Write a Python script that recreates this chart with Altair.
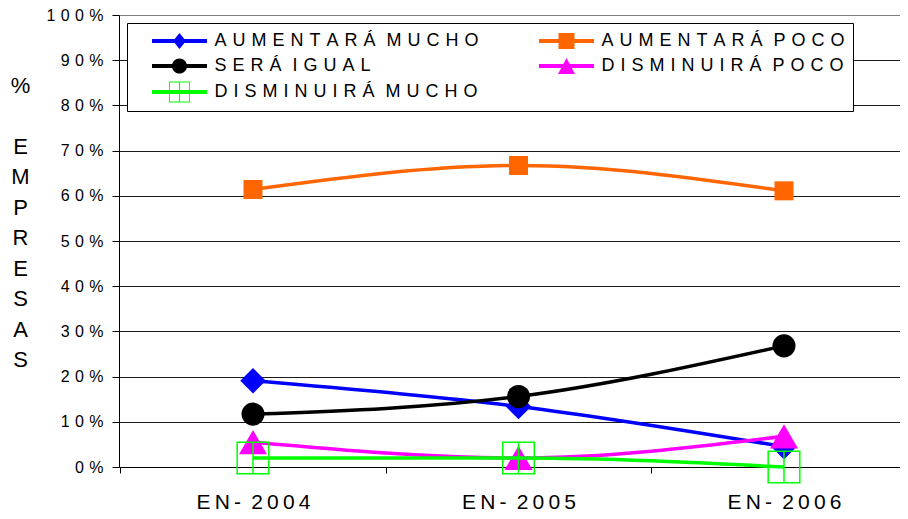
import altair as alt
import pandas as pd

# ---------------- data ----------------
periods = ["EN- 2004", "EN- 2005", "EN- 2006"]
series = ["AUMENTARÁ MUCHO", "AUMENTARÁ POCO", "SERÁ IGUAL", "DISMINUIRÁ POCO", "DISMINUIRÁ MUCHO"]
aumentara_mucho = [0.191, 0.134, 0.045]
aumentara_poco = [0.614, 0.667, 0.611]
sera_igual = [0.117, 0.156, 0.268]
disminuira_poco = [0.055, 0.020, 0.068]
disminuira_mucho = [0.020, 0.020, 0.000]
y_ticks = [0.0, 0.1, 0.2, 0.3, 0.4, 0.5, 0.6, 0.7, 0.8, 0.9, 1.0]
y_title = ["%", "\u200b", "E", "M", "P", "R", "E", "S", "A", "S"]

colors = ["#0000FF", "#FF6600", "#000000", "#FF00FF", "#00FF00"]
values = [aumentara_mucho, aumentara_poco, sera_igual, disminuira_poco, disminuira_mucho]

rows = []
for s, vals in zip(series, values):
    for i, (p, v) in enumerate(zip(periods, vals)):
        rows.append({"serie": s, "periodo": p, "idx": i, "valor": v})
df = pd.DataFrame(rows)

# ---------------- styles ----------------
FONT = "Liberation Sans"
PLOT_W = 781
STEP = 265.5
X_MIN = -0.5047
X_MAX = X_MIN + PLOT_W / STEP

GREEN_MARK = "M-1,-1H1V1H-1ZM0,-1V1"
markers = {
    "AUMENTARÁ MUCHO": dict(shape="diamond", size=650, filled=True),
    "AUMENTARÁ POCO": dict(shape="square", size=361, filled=True),
    "SERÁ IGUAL": dict(shape="circle", size=530, filled=True),
    "DISMINUIRÁ POCO": dict(shape="triangle-up", size=784, filled=True),
    "DISMINUIRÁ MUCHO": dict(shape=GREEN_MARK, size=1000, filled=False),
}

LINE = "M-3.44,-0.25H3.44V0.25H-3.44Z"
R = "0.95"
CIRCLE = (f"M-{R},0A{R},{R},0,0,1,0,-{R}A{R},{R},0,0,1,{R},0"
          f"A{R},{R},0,0,1,0,{R}A{R},{R},0,0,1,-{R},0Z")
legend_path = {
    "AUMENTARÁ MUCHO": LINE + "M0,-1L0.81,0L0,1L-0.81,0Z",
    "AUMENTARÁ POCO": LINE + "M-1,-1H1V1H-1Z",
    "SERÁ IGUAL": LINE + CIRCLE,
    "DISMINUIRÁ POCO": LINE + "M0,-1L1.06,1H-1.06Z",
    "DISMINUIRÁ MUCHO": LINE + "M-1.31,-1.31H1.31V1.31H-1.31ZM-1.19,-1.19V1.19H1.19V-1.19Z"
                        "M-0.07,-1.31H0.07V1.31H-0.07Z",
}
color_of = dict(zip(series, colors))
# legend fills column by column: 3 rows in the first column, 2 in the second
legend_order = [series[0], series[2], series[4], series[1], series[3]]

SP_Y = "\u2004"
SP_X = "\u2009"
SP_L = "\u2004"
SPACED = "replace({s}, regexp('(.)(?=[^ ])','g'), '$1{sp}')"

period_arr = "[" + ",".join(f"'{p}'" for p in periods) + "]"
x_label_expr = (
    f"datum.value % 1 == 0 ? "
    + SPACED.format(s=f"{period_arr}[datum.value]", sp=SP_X)
    + " : ''"
)

x_enc = alt.X(
    "idx:Q",
    scale=alt.Scale(domain=[X_MIN, X_MAX], nice=False, zero=False),
    axis=alt.Axis(
        title=None, values=[-0.5, 0, 0.5, 1, 1.5, 2], labelAngle=0,
        tickSize=6, tickColor="#000000",
        tickOpacity={"condition": {"test": "datum.value % 1 == 0", "value": 0}, "value": 1},
        domainColor="#000000", grid=False, labelFontSize=21, labelPadding=18,
        labelColor="#000000", labelFont=FONT, labelFlush=False, labelOverlap=False,
        labelExpr=x_label_expr,
    ),
)
y_enc = alt.Y(
    "valor:Q",
    scale=alt.Scale(domain=[0, 1], nice=False, zero=True),
    axis=alt.Axis(
        values=y_ticks, format=".0%", tickSize=7, tickColor="#000000", domainColor="#000000",
        labelFontSize=16, labelPadding=9, labelColor="#000000", labelFont=FONT,
        labelExpr=SPACED.format(s="datum.label", sp=SP_Y),
        grid=True,
        gridColor={"condition": {"test": "datum.value >= 1", "value": "#808080"}, "value": "#1a1a1a"},
        gridWidth=1,
        title=y_title, titleAngle=0, titleAlign="center", titleBaseline="top",
        titleX=-99, titleY=60, titleLineHeight=30.5, titleFontSize=22,
        titleFontWeight="normal", titleFont=FONT, titleColor="#000000",
    ),
)

base = alt.Chart(df)
layers = []
for s, c in zip(series, colors):
    m = markers[s]
    sub = base.transform_filter(alt.datum.serie == s)
    layers.append(
        sub.mark_line(interpolate="monotone", strokeWidth=3.5, color=c).encode(
            x=x_enc, y=y_enc, order="idx:Q")
    )
    if m["filled"]:
        pt = sub.mark_point(shape=m["shape"], size=m["size"], filled=True, color=c, opacity=1, strokeWidth=0)
    else:
        pt = sub.mark_point(shape=m["shape"], size=m["size"], filled=False, color=c, opacity=1,
                            strokeWidth=1.5)
    layers.append(pt.encode(x=x_enc, y=y_enc))

legend_def = alt.Legend(
    orient="none", legendX=8, legendY=8, columns=2, title=None,
    fillColor="#FFFFFF", strokeColor="#000000", padding=8, gridAlign="all",
    symbolSize=256, symbolStrokeWidth=0, symbolOffset=35.5, labelOffset=26,
    labelFontSize=18, labelFont=FONT, labelColor="#000000", labelLimit=600,
    rowPadding=4, columnPadding=43, labelExpr=SPACED.format(s="datum.label", sp=SP_L),
)
legend_layer = base.transform_filter("false").mark_point(filled=True, opacity=1).encode(
    color=alt.Color("serie:N",
                    scale=alt.Scale(domain=legend_order, range=[color_of[s] for s in legend_order]),
                    legend=legend_def),
    shape=alt.Shape("serie:N",
                    scale=alt.Scale(domain=legend_order, range=[legend_path[s] for s in legend_order]),
                    legend=legend_def),
)

chart = alt.layer(*layers, legend_layer).properties(
    width=PLOT_W,
    height=452,
    autosize=alt.AutoSizeParams(type="none"),
    padding={"left": 111, "top": 7, "right": 0, "bottom": 44},
).configure_view(
    fill="#FFFFCC", stroke=None
).configure_legend(
    strokeWidth=1.5
).configure(
    font=FONT
)

chart.save("out.html", embed_options={"renderer": "svg", "actions": False})
